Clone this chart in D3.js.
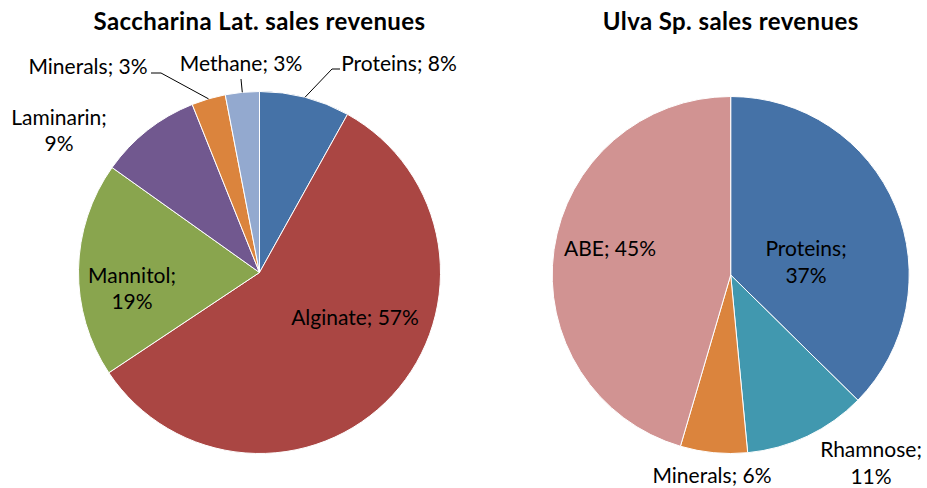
<!DOCTYPE html>
<html>
<head>
<meta charset="utf-8">
<script src="https://cdn.jsdelivr.net/npm/d3@7"></script>
<style>
  html, body { margin: 0; padding: 0; background: #fff; }
  svg { display: block; }
  text { font-family: Lato, "Noto Sans", sans-serif; fill: #000; }
</style>
</head>
<body>
<svg id="chart" width="927" height="488"></svg>
<script>
// Saccharina latissima: share of sales revenue by product (%)
const saccharinaCategories = ["Proteins", "Alginate", "Mannitol", "Laminarin", "Minerals", "Methane"];
const saccharinaValues = [8, 57, 19, 9, 3, 3];
const saccharinaColors = ["#4572A7", "#AA4643", "#89A54E", "#71588F", "#DB843D", "#93A9CF"];

// Ulva sp.: share of sales revenue by product (%)
const ulvaCategories = ["Proteins", "Rhamnose", "Minerals", "ABE"];
const ulvaValues = [37, 11, 6, 45];
const ulvaColors = ["#4572A7", "#4198AF", "#DB843D", "#D19392"];

const titles = ["Saccharina Lat. sales revenues", "Ulva Sp. sales revenues"];

// Label placement for each pie (text centre x, first baseline y, line break, leader line)
const saccharinaLabelLayout = {
  Proteins:  { x: 399, y: 71, wrap: false, leader: [[340, 69], [332, 69]] },
  Alginate:  { x: 355, y: 325, wrap: false },
  Mannitol:  { x: 132, y: 283, wrap: true },
  Laminarin: { x: 59, y: 125, wrap: true },
  Minerals:  { x: 88, y: 74, wrap: false, leader: [[151, 73], [161, 73]] },
  Methane:   { x: 241, y: 71, wrap: false, leader: [[241, 79]] }
};
const ulvaLabelLayout = {
  Proteins: { x: 806, y: 256, wrap: true },
  Rhamnose: { x: 871, y: 457, wrap: true },
  Minerals: { x: 712, y: 483, wrap: false },
  ABE:      { x: 610, y: 256, wrap: false }
};

const svg = d3.select("#chart");

function drawPie(cfg) {
  const data = cfg.categories.map((c, i) => ({ name: c, value: cfg.values[i] }));
  const pie = d3.pie().value(d => d.value).sort(null);
  const arcs = pie(data);
  const arc = d3.arc().innerRadius(0).outerRadius(cfg.r);
  const edge = d3.arc().innerRadius(cfg.r).outerRadius(cfg.r);
  const color = d3.scaleOrdinal().domain(cfg.categories).range(cfg.colors);

  const g = svg.append("g").attr("transform", `translate(${cfg.cx},${cfg.cy})`);
  g.selectAll("path.slice")
    .data(arcs)
    .join("path")
    .attr("class", "slice")
    .attr("d", arc)
    .attr("fill", d => color(d.data.name))
    .attr("stroke", "#fff")
    .attr("stroke-width", 1);

  // leader lines from label to the middle of the slice's outer edge
  const lines = svg.append("g");
  arcs.forEach(d => {
    const lay = cfg.layout[d.data.name];
    if (!lay.leader) return;
    const c = edge.centroid(d);
    const pts = lay.leader.concat([[cfg.cx + c[0], cfg.cy + c[1]]]);
    lines.append("path")
      .attr("d", d3.line()(pts))
      .attr("fill", "none")
      .attr("stroke", "#000")
      .attr("stroke-width", 1);
  });

  const labels = svg.append("g");
  arcs.forEach(d => {
    const lay = cfg.layout[d.data.name];
    const name = d.data.name + ";";
    const pct = d.data.value + "%";
    const t = labels.append("text")
      .attr("text-anchor", "middle")
      .attr("font-size", cfg.labelSize);
    if (lay.wrap) {
      t.append("tspan").attr("x", lay.x).attr("y", lay.y).text(name);
      t.append("tspan").attr("x", lay.x).attr("y", lay.y + cfg.lineGap).text(pct);
    } else {
      t.attr("x", lay.x).attr("y", lay.y).text(name + " " + pct);
    }
  });

  svg.append("text")
    .attr("x", cfg.cx)
    .attr("y", 30)
    .attr("text-anchor", "middle")
    .attr("font-weight", "bold")
    .attr("font-size", 24)
    .attr("letter-spacing", 0.4)
    .text(cfg.title);
}

drawPie({
  categories: saccharinaCategories, values: saccharinaValues, colors: saccharinaColors,
  layout: saccharinaLabelLayout, title: titles[0],
  cx: 259.5, cy: 272.5, r: 181, labelSize: 21, lineGap: 26
});
drawPie({
  categories: ulvaCategories, values: ulvaValues, colors: ulvaColors,
  layout: ulvaLabelLayout, title: titles[1],
  cx: 730.7, cy: 275, r: 178.5, labelSize: 21, lineGap: 27
});
</script>
</body>
</html>
